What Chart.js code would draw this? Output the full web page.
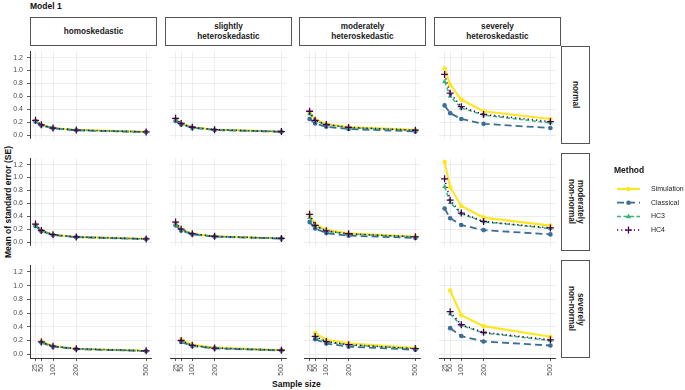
<!DOCTYPE html>
<html>
<head>
<meta charset="utf-8">
<script src="https://cdn.jsdelivr.net/npm/chart.js@4.4.1/dist/chart.umd.min.js"></script>
<style>
  body { margin: 0; background: #fff; font-family: "Liberation Sans", Arial, sans-serif; }
  #wrap { position: relative; width: 685px; height: 390px; overflow: hidden; }
  #wrap canvas { position: absolute; }
  .strip {
    position: absolute; box-sizing: border-box; border: 1px solid #555; background: #fff;
    display: flex; align-items: center; justify-content: center; text-align: center;
    font-size: 8.2px; font-weight: bold; color: #1a1a1a; line-height: 1.15;
  }
  .strip.side { writing-mode: vertical-rl; }
  .txt { position: absolute; white-space: nowrap; color: #111; }
</style>
</head>
<body>
<div id="wrap">
  <div class="txt" style="left:30px;top:1px;font-size:8.5px;font-weight:bold;">Model 1</div>
  <div class="txt" style="left:0;top:197px;width:16px;height:10px;font-size:8.5px;font-weight:bold;text-align:center;">
    <div style="position:absolute;left:50%;top:50%;transform:translate(-50%,-50%) rotate(-90deg);">Mean of standard error (SE)</div>
  </div>
  <div class="txt" style="left:272px;top:379px;font-size:8.5px;font-weight:bold;">Sample size</div>
</div>
<script>
const sampleSizes = [25, 50, 100, 200, 500];
const yTicks = [0, 0.2, 0.4, 0.6, 0.8, 1.0, 1.2];
const colLabels = [['homoskedastic'], ['slightly', 'heteroskedastic'], ['moderately', 'heteroskedastic'], ['severely', 'heteroskedastic']];
const rowLabels = [['normal'], ['moderately', 'non-normal'], ['severely', 'non-normal']];
const methods = ['Simulation', 'Classical', 'HC3', 'HC4'];

// [row][column][sample size]; rows: normal, moderately, severely non-normal
const simulation = [
  [[0.22, 0.16, 0.11, 0.08, 0.05], [0.25, 0.18, 0.12, 0.085, 0.055], [0.35, 0.24, 0.17, 0.125, 0.08], [1.03, 0.78, 0.55, 0.37, 0.25]],
  [[0.27, 0.18, 0.115, 0.08, 0.05], [0.3, 0.2, 0.13, 0.09, 0.06], [0.42, 0.28, 0.19, 0.135, 0.085], [1.24, 0.85, 0.56, 0.38, 0.255]],
  [[null, 0.19, 0.12, 0.08, 0.05], [null, 0.21, 0.14, 0.095, 0.06], [null, 0.31, 0.21, 0.16, 0.09], [null, 0.93, 0.57, 0.41, 0.255]]
];
const classical = [
  [[0.21, 0.15, 0.105, 0.075, 0.047], [0.22, 0.165, 0.115, 0.08, 0.052], [0.25, 0.18, 0.13, 0.095, 0.058], [0.46, 0.34, 0.25, 0.175, 0.11]],
  [[0.25, 0.17, 0.11, 0.077, 0.048], [0.26, 0.18, 0.12, 0.085, 0.055], [0.31, 0.21, 0.14, 0.1, 0.065], [0.52, 0.37, 0.265, 0.186, 0.12]],
  [[null, 0.17, 0.11, 0.075, 0.047], [null, 0.18, 0.12, 0.085, 0.055], [null, 0.22, 0.155, 0.11, 0.065], [null, 0.38, 0.265, 0.186, 0.127]]
];
const hc3 = [
  [[0.22, 0.155, 0.11, 0.078, 0.049], [0.24, 0.175, 0.12, 0.084, 0.054], [0.33, 0.22, 0.16, 0.115, 0.075], [0.83, 0.6, 0.42, 0.31, 0.19]],
  [[0.26, 0.175, 0.112, 0.079, 0.05], [0.28, 0.19, 0.125, 0.088, 0.057], [0.38, 0.25, 0.17, 0.125, 0.08], [0.86, 0.61, 0.44, 0.315, 0.21]],
  [[null, 0.175, 0.115, 0.078, 0.049], [null, 0.19, 0.125, 0.088, 0.057], [null, 0.25, 0.18, 0.135, 0.08], [null, 0.59, 0.42, 0.31, 0.2]]
];
const hc4 = [
  [[0.23, 0.16, 0.11, 0.079, 0.05], [0.26, 0.18, 0.122, 0.085, 0.055], [0.37, 0.23, 0.165, 0.12, 0.077], [0.94, 0.65, 0.44, 0.32, 0.21]],
  [[0.28, 0.18, 0.115, 0.08, 0.05], [0.31, 0.2, 0.13, 0.09, 0.058], [0.43, 0.26, 0.175, 0.13, 0.082], [0.98, 0.65, 0.45, 0.32, 0.22]],
  [[null, 0.18, 0.117, 0.08, 0.05], [null, 0.2, 0.13, 0.09, 0.058], [null, 0.26, 0.185, 0.14, 0.082], [null, 0.62, 0.43, 0.32, 0.21]]
];

const seriesData = { Simulation: simulation, Classical: classical, HC3: hc3, HC4: hc4 };
const STYLE = {
  Simulation: { color: '#FDE725', dash: [], width: 2.2, point: 'circle', radius: 2.3, order: 4 },
  Classical: { color: '#3B6E97', dash: [7, 4], width: 1.8, point: 'circle', radius: 2.3, order: 3 },
  HC3: { color: '#35B779', dash: [4, 2.5], width: 1.5, point: 'triangle', radius: 2.8, order: 2 },
  HC4: { color: '#440154', dash: [1.2, 3], width: 1.5, point: 'cross', radius: 3.5, order: 1 }
};

const PANEL_LEFT = [30, 165, 299, 434];
const PANEL_TOP = [46, 153, 260];
const PW = 127, PH = 98;
const FONT = '"Liberation Sans", Arial, sans-serif';

const wrap = document.getElementById('wrap');

const tickLabels = {
  id: 'tickLabels',
  afterDraw(chart, args, opts) {
    const ctx = chart.ctx;
    ctx.save();
    ctx.fillStyle = '#4d4d4d';
    ctx.font = '7px ' + FONT;
    if (opts.y) {
      const ys = chart.scales.y;
      ctx.textAlign = 'right';
      ctx.textBaseline = 'middle';
      yTicks.forEach(v => ctx.fillText(v.toFixed(1), ys.right - 7, ys.getPixelForValue(v)));
    }
    if (opts.x) {
      const xs = chart.scales.x;
      sampleSizes.forEach(v => {
        ctx.save();
        ctx.translate(xs.getPixelForValue(v), xs.top + 6);
        ctx.rotate(-Math.PI / 2);
        ctx.textAlign = 'right';
        ctx.textBaseline = 'middle';
        ctx.fillText(String(v), 0, 0);
        ctx.restore();
      });
    }
    ctx.restore();
  }
};

function makePanel(r, c) {
  const yw = c === 0 ? 30 : 0;
  const xh = r === 2 ? 30 : 0;
  const canvas = document.createElement('canvas');
  canvas.width = PW + yw;
  canvas.height = PH + xh;
  canvas.style.left = (PANEL_LEFT[c] - yw) + 'px';
  canvas.style.top = PANEL_TOP[r] + 'px';
  canvas.style.width = canvas.width + 'px';
  canvas.style.height = canvas.height + 'px';
  wrap.appendChild(canvas);

  const datasets = methods.map(m => {
    const s = STYLE[m];
    const vals = seriesData[m][r][c];
    const pts = [];
    sampleSizes.forEach((n, i) => { if (vals[i] !== null) pts.push({ x: n, y: vals[i] }); });
    return {
      label: m,
      data: pts,
      order: s.order,
      borderColor: s.color,
      backgroundColor: s.color,
      borderWidth: s.width,
      borderDash: s.dash,
      pointStyle: s.point,
      pointRadius: s.radius,
      pointBorderWidth: s.point === 'cross' ? 1.3 : 0,
      pointBackgroundColor: s.color,
      pointBorderColor: s.color,
      tension: 0,
      fill: false
    };
  });

  new Chart(canvas, {
    type: 'line',
    data: { datasets },
    options: {
      responsive: false,
      animation: false,
      devicePixelRatio: 1,
      layout: { padding: 0 },
      plugins: {
        legend: { display: false },
        tooltip: { enabled: false },
        tickLabels: { x: r === 2, y: c === 0 }
      },
      scales: {
        x: {
          type: 'linear',
          min: 1.25,
          max: 523.75,
          afterBuildTicks: s => { s.ticks = sampleSizes.map(v => ({ value: v })); },
          afterFit: s => { s.height = xh; },
          ticks: { display: false },
          grid: { color: '#e6e6e6', lineWidth: 0.7, drawTicks: r === 2, tickLength: 3, tickColor: '#333', tickWidth: 0.8 },
          border: { display: r === 2, color: '#333', width: 1 }
        },
        y: {
          min: -0.055,
          max: 1.297,
          afterBuildTicks: s => { s.ticks = yTicks.map(v => ({ value: v })); },
          afterFit: s => { s.width = yw; },
          ticks: { display: false },
          grid: { color: '#e6e6e6', lineWidth: 0.7, drawTicks: c === 0, tickLength: 3, tickColor: '#333', tickWidth: 0.8 },
          border: { display: c === 0, color: '#333', width: 1 }
        }
      }
    },
    plugins: [tickLabels]
  });
}

for (let r = 0; r < 3; r++) for (let c = 0; c < 4; c++) makePanel(r, c);

// facet strips
colLabels.forEach((lines, c) => {
  const d = document.createElement('div');
  d.className = 'strip';
  d.style.cssText = `left:${PANEL_LEFT[c]}px;top:17px;width:${PW}px;height:29px;`;
  d.innerHTML = lines.join('<br>');
  wrap.appendChild(d);
});
rowLabels.forEach((lines, r) => {
  const d = document.createElement('div');
  d.className = 'strip side';
  d.style.cssText = `left:${PANEL_LEFT[3] + PW}px;top:${PANEL_TOP[r]}px;width:29px;height:${PH}px;`;
  d.innerHTML = lines.join('<br>');
  wrap.appendChild(d);
});

// legend
const leg = document.createElement('canvas');
leg.width = 73; leg.height = 80;
leg.style.left = '612px'; leg.style.top = '162px';
wrap.appendChild(leg);
const lc = leg.getContext('2d');
lc.fillStyle = '#111';
lc.font = 'bold 8.5px ' + FONT;
lc.textBaseline = 'middle';
lc.fillText('Method', 2, 9);
methods.forEach((m, i) => {
  const s = STYLE[m];
  const y = 27 + i * 13.7;
  lc.save();
  lc.strokeStyle = s.color; lc.fillStyle = s.color;
  lc.lineWidth = s.width;
  lc.setLineDash(s.dash);
  lc.beginPath(); lc.moveTo(5, y); lc.lineTo(28, y); lc.stroke();
  lc.setLineDash([]);
  const cx = 16.5;
  if (s.point === 'circle') { lc.beginPath(); lc.arc(cx, y, s.radius, 0, Math.PI * 2); lc.fill(); }
  else if (s.point === 'triangle') { lc.beginPath(); lc.moveTo(cx, y - 2.8); lc.lineTo(cx + 2.6, y + 1.8); lc.lineTo(cx - 2.6, y + 1.8); lc.closePath(); lc.fill(); }
  else { lc.lineWidth = 1.3; lc.beginPath(); lc.moveTo(cx - 3.5, y); lc.lineTo(cx + 3.5, y); lc.moveTo(cx, y - 3.5); lc.lineTo(cx, y + 3.5); lc.stroke(); }
  lc.restore();
  lc.fillStyle = '#222';
  lc.font = '7px ' + FONT;
  lc.fillText(m, 39, y);
});
</script>
</body>
</html>
